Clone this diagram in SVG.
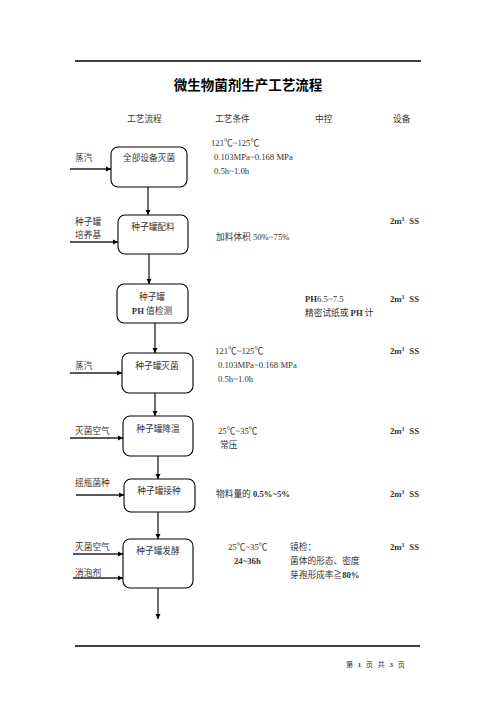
<svg xmlns="http://www.w3.org/2000/svg" width="496" height="702" viewBox="0 0 496 702">
<style>
.t{font-family:"Liberation Serif","Noto Sans CJK SC",serif;font-size:8.7px;fill:#333}
.b{font-weight:bold}
.cj{font-family:"Noto Sans CJK SC",sans-serif}
.title{font-family:"Noto Sans CJK SC",sans-serif;font-size:13.5px;font-weight:bold;fill:#000}
.box{fill:#fff;stroke:#000;stroke-width:1.1}
.c{stroke:#222;stroke-width:1.3;fill:none;marker-end:url(#ah)}
.rule{stroke:#000;stroke-width:1.3}
.ft{font-family:"Liberation Serif","Noto Sans CJK SC",serif;font-size:7px;fill:#333;word-spacing:3px}
</style>
<defs>
<marker id="ah" markerWidth="6" markerHeight="6" refX="5" refY="3" orient="auto" markerUnits="userSpaceOnUse">
<path d="M0,0.5 L5,3 L0,5.5 z" fill="#000"/>
</marker>
</defs>
<rect width="496" height="702" fill="#fff"/>
<line class="rule" x1="75" y1="61" x2="421" y2="61"/>
<line class="rule" x1="75" y1="646" x2="420" y2="646"/>
<text class="title" x="248" y="90" text-anchor="middle">微生物菌剂生产工艺流程</text>
<g id="header">
<text class="t" x="127" y="122">工艺流程</text>
<text class="t" x="215" y="122">工艺条件</text>
<text class="t" x="315" y="122">中控</text>
<text class="t" x="393" y="122">设备</text>
</g>
<g id="connectors">
<line class="c" x1="70" y1="169" x2="111" y2="169"/>
<line class="c" x1="148" y1="187" x2="148" y2="215"/>
<line class="c" x1="70" y1="242" x2="118" y2="242"/>
<line class="c" x1="149" y1="254" x2="149" y2="284"/>
<line class="c" x1="155" y1="323" x2="155" y2="353"/>
<line class="c" x1="70" y1="373" x2="122" y2="373"/>
<line class="c" x1="155" y1="393" x2="155" y2="416"/>
<line class="c" x1="70" y1="438" x2="123" y2="438"/>
<line class="c" x1="158" y1="456" x2="158" y2="479"/>
<line class="c" x1="76" y1="495" x2="124" y2="495"/>
<line class="c" x1="158" y1="512" x2="158" y2="539"/>
<line class="c" x1="73" y1="554" x2="123" y2="554"/>
<line class="c" x1="73" y1="578" x2="123" y2="578"/>
<line class="c" x1="158" y1="588" x2="158" y2="619"/>
</g>
<g id="n1">
<rect class="box" x="111" y="147" width="76" height="40" rx="7"/>
<text class="t" x="149" y="161" text-anchor="middle">全部设备灭菌</text>
</g>
<g id="n2">
<rect class="box" x="118" y="215" width="70" height="39" rx="7"/>
<text class="t" x="153" y="230" text-anchor="middle">种子罐配料</text>
</g>
<g id="n3">
<rect class="box" x="117" y="284" width="71" height="39" rx="7"/>
<text class="t" x="152" y="300" text-anchor="middle">种子罐</text>
<text class="t" x="152" y="314" text-anchor="middle"><tspan class="b">PH</tspan> 值检测</text>
</g>
<g id="n4">
<rect class="box" x="122" y="353" width="71" height="40" rx="7"/>
<text class="t" x="157" y="369" text-anchor="middle">种子罐灭菌</text>
</g>
<g id="n5">
<rect class="box" x="123" y="416" width="70" height="40" rx="7"/>
<text class="t" x="158" y="432" text-anchor="middle">种子罐降温</text>
</g>
<g id="n6">
<rect class="box" x="124" y="479" width="71" height="33" rx="7"/>
<text class="t" x="159" y="494" text-anchor="middle">种子罐接种</text>
</g>
<g id="n7">
<rect class="box" x="123" y="539" width="70" height="49" rx="7"/>
<text class="t" x="158" y="554" text-anchor="middle">种子罐发酵</text>
</g>
<g id="inputs">
<text class="t" x="75" y="161">蒸汽</text>
<text class="t" x="75" y="225">种子罐</text>
<text class="t" x="75" y="238">培养基</text>
<text class="t" x="75" y="369">蒸汽</text>
<text class="t" x="75" y="434">灭菌空气</text>
<text class="t" x="75" y="486">摇瓶菌种</text>
<text class="t" x="75" y="550">灭菌空气</text>
<text class="t" x="75" y="576">消泡剂</text>
</g>
<g id="conditions">
<text class="t" x="211" y="146">121<tspan class="cj">℃</tspan>~125<tspan class="cj">℃</tspan></text>
<text class="t" x="214" y="160">0.103MPa~0.168 MPa</text>
<text class="t" x="214" y="174">0.5h~1.0h</text>
<text class="t" x="216" y="240">加料体积 50%~75%</text>
<text class="t" x="215" y="354">121<tspan class="cj">℃</tspan>~125<tspan class="cj">℃</tspan></text>
<text class="t" x="218" y="368">0.103MPa~0.168 MPa</text>
<text class="t" x="218" y="382">0.5h~1.0h</text>
<text class="t" x="218" y="434">25<tspan class="cj">℃</tspan>~35<tspan class="cj">℃</tspan></text>
<text class="t" x="220" y="448">常压</text>
<text class="t" x="216" y="497">物料量的 <tspan class="b">0.5%~5%</tspan></text>
<text class="t" x="228" y="550">25<tspan class="cj">℃</tspan>~35<tspan class="cj">℃</tspan></text>
<text class="t b" x="234" y="564">24~36h</text>
</g>
<g id="control">
<text class="t" x="305" y="302"><tspan class="b">PH</tspan>6.5~7.5</text>
<text class="t" x="305" y="316">精密试纸或 <tspan class="b">PH</tspan> 计</text>
<text class="t" x="290" y="550">镜检：</text>
<text class="t" x="290" y="564">菌体的形态、密度</text>
<text class="t" x="290" y="578">芽孢形成率≧<tspan class="b">80%</tspan></text>
</g>
<g id="equipment">
<text class="t b" x="390" y="224">2m<tspan font-size="5.5" dy="-3.5">3</tspan><tspan dx="5" dy="3.5">SS</tspan></text>
<text class="t b" x="390" y="302">2m<tspan font-size="5.5" dy="-3.5">3</tspan><tspan dx="5" dy="3.5">SS</tspan></text>
<text class="t b" x="390" y="354">2m<tspan font-size="5.5" dy="-3.5">3</tspan><tspan dx="5" dy="3.5">SS</tspan></text>
<text class="t b" x="390" y="434">2m<tspan font-size="5.5" dy="-3.5">3</tspan><tspan dx="5" dy="3.5">SS</tspan></text>
<text class="t b" x="390" y="497">2m<tspan font-size="5.5" dy="-3.5">3</tspan><tspan dx="5" dy="3.5">SS</tspan></text>
<text class="t b" x="390" y="550">2m<tspan font-size="5.5" dy="-3.5">3</tspan><tspan dx="5" dy="3.5">SS</tspan></text>
</g>
<text class="ft" x="346" y="667">第 <tspan font-weight="bold">1</tspan> 页 共 <tspan font-weight="bold">3</tspan> 页</text>
</svg>
